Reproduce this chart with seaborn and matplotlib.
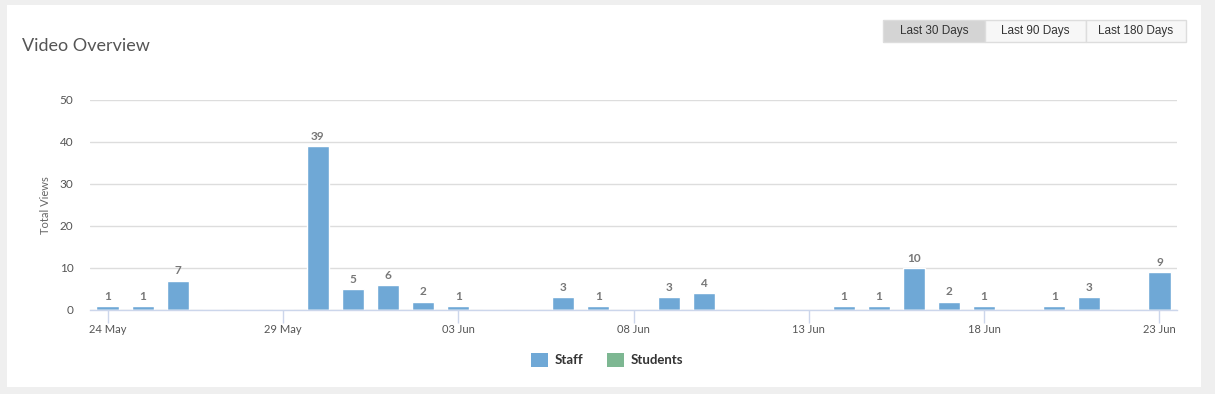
import matplotlib
matplotlib.use("Agg")
import matplotlib.pyplot as plt
from matplotlib.patches import Rectangle, Patch
import seaborn as sns
import pandas as pd

dates = ["24 May", "25 May", "26 May", "27 May", "28 May", "29 May", "30 May", "31 May",
         "01 Jun", "02 Jun", "03 Jun", "04 Jun", "05 Jun", "06 Jun", "07 Jun", "08 Jun",
         "09 Jun", "10 Jun", "11 Jun", "12 Jun", "13 Jun", "14 Jun", "15 Jun", "16 Jun",
         "17 Jun", "18 Jun", "19 Jun", "20 Jun", "21 Jun", "22 Jun", "23 Jun"]
staff = [1, 1, 7, 0, 0, 0, 39, 5, 6, 2, 1, 0, 0, 3, 1, 0, 3, 4, 0, 0, 0, 1, 1, 10, 2, 1, 0, 1, 3, 0, 9]
students = [0] * 31
series_names = ["Staff", "Students"]
colors = ["#6fa8d6", "#7db792"]
tick_labels = ["24 May", "29 May", "03 Jun", "08 Jun", "13 Jun", "18 Jun", "23 Jun"]
y_ticks = [0, 10, 20, 30, 40, 50]
buttons = ["Last 30 Days", "Last 90 Days", "Last 180 Days"]

df = pd.DataFrame({
    "date": dates * 2,
    "series": ["Staff"] * len(dates) + ["Students"] * len(dates),
    "views": staff + students,
})

sns.set_theme(style="white")
plt.rcParams["font.family"] = ["Lato", "DejaVu Sans"]

W, H = 1215, 394
fig = plt.figure(figsize=(W / 100, H / 100), dpi=100)
fig.set_facecolor("#efefef")

def px(x0, y0, x1, y1):
    return (x0 / W, 1 - y1 / H, (x1 - x0) / W, (y1 - y0) / H)

# white card
l, b, w, h = px(7, 5, 1201, 387)
fig.patches.append(Rectangle((l, b), w, h, transform=fig.transFigure, facecolor="white",
                             edgecolor="none", zorder=-5))

ax = fig.add_axes(px(90, 100, 1177, 310))
ax.set_zorder(2)
ax.set_facecolor("none")
sns.barplot(data=df, x="date", y="views", hue="series", order=dates,
            hue_order=series_names, palette=colors, dodge=False, width=0.63,
            ax=ax, legend=False, saturation=1, errorbar=None)

for cont, name in zip(ax.containers, series_names):
    vals = staff if name == "Staff" else students
    labels = [str(v) if v > 0 else "" for v in vals]
    ax.bar_label(cont, labels=labels, padding=3, fontsize=8.5, fontweight="bold",
                 color="#777777")

ax.set_xlim(-0.5, 30.5)
ax.set_ylim(0, 50)
ax.set_yticks(y_ticks)
ax.set_yticklabels([str(t) for t in y_ticks])
ax.yaxis.grid(True, color="#dddddd", linewidth=1)
ax.set_axisbelow(True)
tick_pos = [dates.index(t) for t in tick_labels]
ax.set_xticks(tick_pos)
ax.set_xticklabels(tick_labels)
ax.tick_params(axis="x", bottom=True, direction="out", length=9, width=1, color="#ccd6eb",
               labelsize=8, labelcolor="#555555", pad=1)
ax.tick_params(axis="y", left=False, length=0, labelsize=8.5, labelcolor="#555555", pad=12)
for s in ["top", "right", "left"]:
    ax.spines[s].set_visible(False)
ax.spines["bottom"].set_color("#ccd6eb")
ax.spines["bottom"].set_linewidth(1)
ax.set_xlabel("")
ax.set_ylabel("Total Views", fontsize=8, color="#666666", labelpad=6)

# title
fig.text(22 / W, 1 - 46 / H, "Video Overview", fontsize=13, color="#555555", va="center", ha="left")

# buttons
bx = [883, 985, 1086, 1186]
for i, name in enumerate(buttons):
    l, b, w, h = px(bx[i], 20, bx[i + 1], 42)
    fig.patches.append(Rectangle((l, b), w, h, transform=fig.transFigure,
                                 facecolor="#d4d4d4" if i == 0 else "#f7f7f7",
                                 edgecolor="#dddddd", linewidth=1, zorder=1))
    fig.text((bx[i] + bx[i + 1]) / 2 / W, 1 - 31 / H, name, fontsize=8.5, color="#333333",
             ha="center", va="center", family=["Liberation Sans", "DejaVu Sans"], zorder=2)

# legend
handles = [Patch(facecolor=c, edgecolor="none") for c in colors]
leg = fig.legend(handles, series_names, loc="center", bbox_to_anchor=(607 / W, 1 - 360 / H),
                 ncol=2, frameon=False, fontsize=9.5, handlelength=1.3, handleheight=1.3,
                 columnspacing=1.8, handletextpad=0.5)
for t in leg.get_texts():
    t.set_fontweight("bold")
    t.set_color("#333333")

fig.savefig("out.png", dpi=100, facecolor=fig.get_facecolor())
